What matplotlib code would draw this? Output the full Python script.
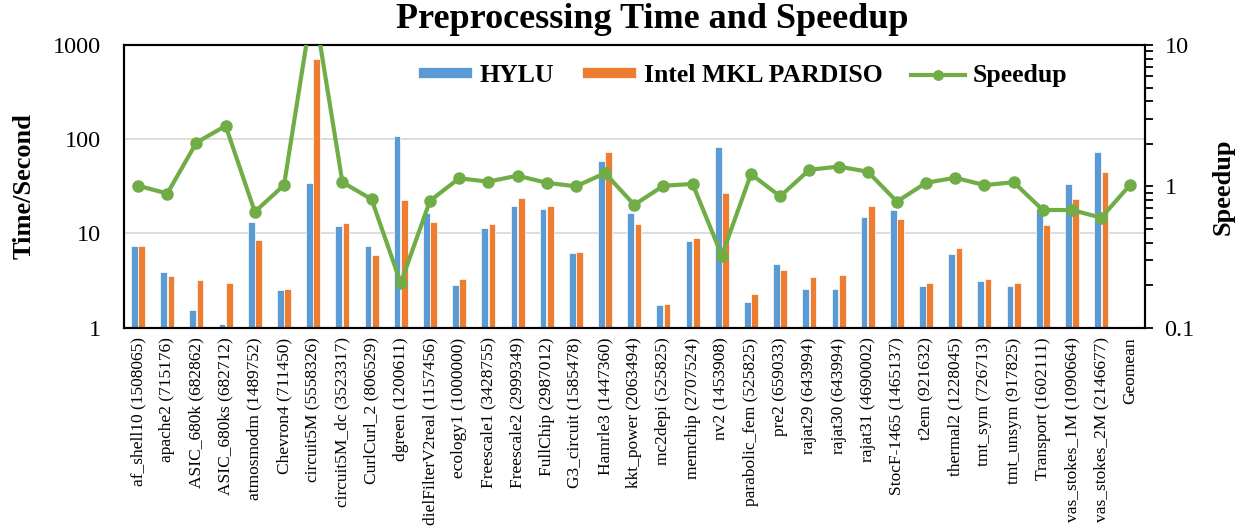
import numpy as np
import matplotlib
matplotlib.use("Agg")
import matplotlib.pyplot as plt
from matplotlib.ticker import LogLocator, FixedLocator, NullFormatter, FixedFormatter

plt.rcParams['font.family'] = ['Liberation Serif', 'DejaVu Serif']

categories = [
    "af_shell10 (1508065)", "apache2 (715176)", "ASIC_680k (682862)", "ASIC_680ks (682712)",
    "atmosmodm (1489752)", "Chevron4 (711450)", "circuit5M (5558326)", "circuit5M_dc (3523317)",
    "CurlCurl_2 (806529)", "dgreen (1200611)", "dielFilterV2real (1157456)", "ecology1 (1000000)",
    "Freescale1 (3428755)", "Freescale2 (2999349)", "FullChip (2987012)", "G3_circuit (1585478)",
    "Hamrle3 (1447360)", "kkt_power (2063494)", "mc2depi (525825)", "memchip (2707524)",
    "nv2 (1453908)", "parabolic_fem (525825)", "pre2 (659033)", "rajat29 (643994)",
    "rajat30 (643994)", "rajat31 (4690002)", "StocF-1465 (1465137)", "t2em (921632)",
    "thermal2 (1228045)", "tmt_sym (726713)", "tmt_unsym (917825)", "Transport (1602111)",
    "vas_stokes_1M (1090664)", "vas_stokes_2M (2146677)", "Geomean",
]

hylu = [7.3, 3.9, 1.55, 1.09, 13.1, 2.5, 34.0, 11.9, 7.3, 109.0, 16.4, 2.87,
        11.5, 19.7, 18.3, 6.2, 58.8, 16.6, 1.76, 8.4, 82.0, 1.88, 4.8, 2.6,
        2.6, 14.9, 17.9, 2.8, 6.1, 3.16, 2.75, 18.0, 33.8, 74.0, np.nan]
mkl = [7.4, 3.5, 3.2, 2.96, 8.6, 2.6, 710.0, 12.9, 5.9, 22.8, 13.2, 3.3,
       12.7, 23.6, 19.5, 6.3, 74.0, 12.5, 1.8, 8.85, 27.1, 2.3, 4.14, 3.46,
       3.64, 19.4, 14.1, 3.0, 7.0, 3.27, 2.99, 12.4, 23.2, 45.3, np.nan]
speedup = [1.01, 0.89, 2.04, 2.68, 0.66, 1.02, 20.5, 1.07, 0.81, 0.207, 0.79, 1.14,
           1.08, 1.19, 1.06, 1.0, 1.24, 0.74, 1.01, 1.04, 0.324, 1.22, 0.85, 1.31,
           1.38, 1.27, 0.78, 1.06, 1.15, 1.02, 1.07, 0.68, 0.68, 0.60, 1.03]

left_ticks = [1, 10, 100, 1000]
left_labels = ["1", "10", "100", "1000"]
right_ticks = [0.1, 1, 10]
right_labels = ["0.1", "1", "10"]

c_blue = "#5B9BD5"
c_orange = "#ED7D31"
c_green = "#70AD47"

fig = plt.figure(figsize=(12.47, 5.28), dpi=100)
ax = fig.add_axes([123.5/1247, 1-327.7/528, (1145-123.5)/1247, (327.7-45)/528])
x = np.arange(len(categories))
w = 0.23
ax.bar(x - 0.125, hylu, width=w, color=c_blue, edgecolor="white", linewidth=0.5, label="HYLU", zorder=2)
ax.bar(x + 0.125, mkl, width=w, color=c_orange, edgecolor="white", linewidth=0.5, label="Intel MKL PARDISO", zorder=2)
ax.set_yscale("log")
ax.set_ylim(1, 1000)
ax.set_xlim(-0.5, len(categories) - 0.5)
ax.yaxis.set_major_locator(FixedLocator(left_ticks))
ax.yaxis.set_major_formatter(FixedFormatter(left_labels))
ax.yaxis.set_minor_locator(FixedLocator([]))
ax.grid(axis="y", which="major", color="#D9D9D9", linewidth=1.3, zorder=0)
ax.set_axisbelow(True)
ax.tick_params(axis="y", length=0, labelsize=17.5, pad=16)
ax.set_xticks(x)
ax.set_xticklabels(categories, rotation=90, fontsize=12.5)
ax.tick_params(axis="x", length=0, pad=7)
for s in ax.spines.values():
    s.set_linewidth(1.5)
ax.set_ylabel("Time/Second", fontsize=19, fontweight="bold", labelpad=13)

ax2 = ax.twinx()
ax2.plot(x, speedup, color=c_green, linewidth=3, marker="o", markersize=8, label="Speedup", zorder=3)
ax2.set_yscale("log")
ax2.set_ylim(0.1, 10)
ax2.yaxis.set_major_locator(FixedLocator(right_ticks))
ax2.yaxis.set_major_formatter(FixedFormatter(right_labels))
ax2.yaxis.set_minor_locator(LogLocator(base=10, subs=np.arange(2, 10)))
ax2.yaxis.set_minor_formatter(NullFormatter())
ax2.tick_params(axis="y", which="both", direction="out", length=6, width=1.3, labelsize=17.5, pad=8)
ax2.set_ylabel("Speedup", fontsize=19, fontweight="bold", labelpad=12)
for s in ax2.spines.values():
    s.set_linewidth(1.5)

h1, l1 = ax.get_legend_handles_labels()
h2, l2 = ax2.get_legend_handles_labels()
leg = ax2.legend(h1 + h2, l1 + l2, loc="center", bbox_to_anchor=(0.606, 0.892), ncol=3,
                 frameon=False, prop={"weight": "bold", "size": 18.5}, handlelength=2.1,
                 handleheight=0.3, columnspacing=1.1, handletextpad=0.3, markerscale=0.85)

fig.suptitle("Preprocessing Time and Speedup", x=(388+917)/2/1247, y=1-20/528, va="center",
             fontsize=26, fontweight="bold")

fig.savefig("out.png", dpi=100)
